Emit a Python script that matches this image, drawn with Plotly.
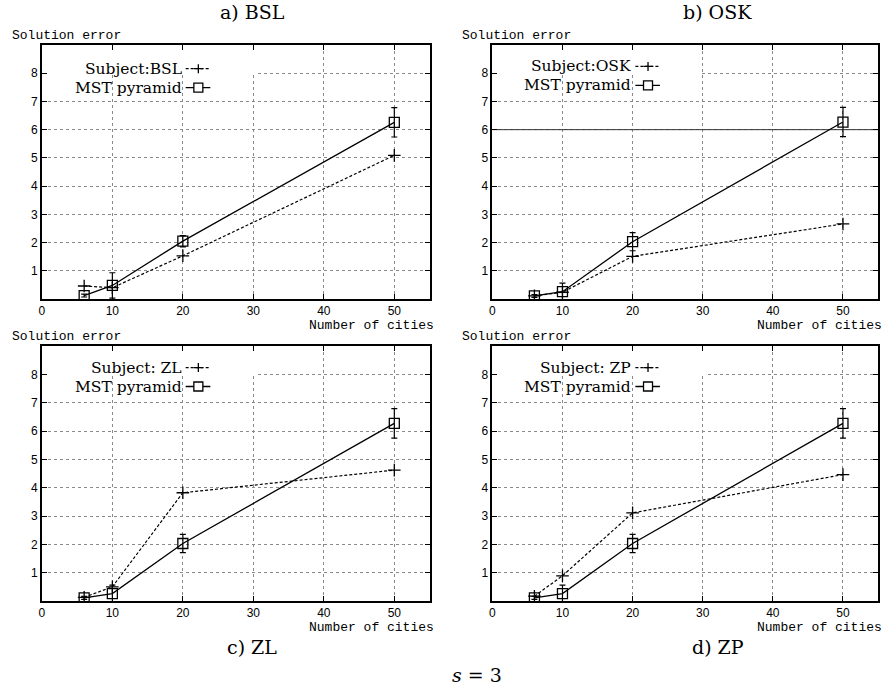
import plotly.graph_objects as go

W, H = 887, 689

# ---- data ----
cities = [6, 10, 20, 50]
mst_bsl = [0.12, 0.48, 2.05, 6.26]
mst_bsl_err = [0.05, 0.45, 0.20, 0.52]
mst_vals = [0.11, 0.26, 2.03, 6.27]
mst_err = [0.05, 0.30, 0.32, 0.52]
subj_bsl = [0.46, 0.40, 1.53, 5.09]
subj_osk = [0.11, 0.24, 1.51, 2.66]
subj_zl = [0.13, 0.50, 3.82, 4.62]
subj_zp = [0.17, 0.89, 3.11, 4.46]

subject_labels = ["Subject:BSL", "Subject:OSK", "Subject: ZL", "Subject: ZP"]
panel_titles = ["a) BSL", "b) OSK", "c) ZL", "d) ZP"]
x_ticks = [0, 10, 20, 30, 40, 50]
y_ticks = [1, 2, 3, 4, 5, 6, 7, 8]

panels = [
    (subj_bsl, mst_bsl, mst_bsl_err),
    (subj_osk, mst_vals, mst_err),
    (subj_zl, mst_vals, mst_err),
    (subj_zp, mst_vals, mst_err),
]

# plot-area pixel boxes (left, right, top, bottom)
boxes = [
    (39, 428, 45, 299),
    (491, 878, 45, 299),
    (39, 428, 346, 601),
    (491, 878, 346, 601),
]

def px(x):
    return x / W

def py(y):
    return 1 - y / H

SERIF = "DejaVu Serif"
MONO = "Liberation Mono"
fig = go.Figure()
layout = {}
shapes = []
annotations = []

for i, (subj, mst, err) in enumerate(panels):
    n = "" if i == 0 else str(i + 1)
    xa, ya = "x" + n, "y" + n
    l, r, t, b = boxes[i]
    common = dict(
        ticks="inside", ticklen=5, mirror="ticks",
        showline=True, linecolor="black", linewidth=1.5, tickcolor="black",
        showgrid=True, gridcolor="#8a8a8a", griddash="dot", gridwidth=1,
        zeroline=False, tickfont=dict(family="Liberation Sans", size=12, color="black"),
    )
    layout["xaxis" + n] = dict(domain=[px(l), px(r)], range=[0, 55], anchor=ya,
                               tickvals=x_ticks, **common)
    layout["yaxis" + n] = dict(domain=[py(b), py(t)], range=[0, 9], anchor=xa,
                               tickvals=y_ticks, **common)

    fig.add_trace(go.Scatter(
        x=cities, y=subj, mode="lines+markers", xaxis=xa, yaxis=ya,
        line=dict(color="black", width=1.2, dash="3px,2px"),
        marker=dict(symbol="cross-thin", size=9, line=dict(color="black", width=1.3)),
        showlegend=False,
    ))
    fig.add_trace(go.Scatter(
        x=cities, y=mst, mode="lines+markers", xaxis=xa, yaxis=ya,
        line=dict(color="black", width=1.3),
        marker=dict(symbol="square-open", size=10, color="black", line=dict(width=1.3)),
        error_y=dict(type="data", array=err, visible=True, color="black", thickness=1.2, width=3),
        showlegend=False,
    ))

    # blank area behind the key (grid hidden there)
    x1 = 29.7 if i == 1 else 30.5
    shapes.append(dict(type="rect", xref=xa, yref=ya, x0=0, x1=x1, y0=7.97, y1=9,
                       fillcolor="white", line=dict(width=0), layer="between"))
    if i == 1:
        shapes.append(dict(type="line", xref=xa, yref=ya, x0=0, x1=55, y0=6, y1=6,
                           line=dict(color="#333333", width=1), layer="between"))

    # key
    ky1, ky2 = (8.16, 7.49) if i == 0 else (8.24, 7.57)
    for txt, ky in ((subject_labels[i], ky1), ("MST pyramid", ky2)):
        annotations.append(dict(xref=xa, yref=ya, x=20.1, y=ky, text=txt,
                                showarrow=False, xanchor="right", yanchor="middle",
                                font=dict(family=SERIF, size=15.5, color="black")))
    shapes.append(dict(type="line", xref=xa, yref=ya, x0=20.4, x1=23.8, y0=ky1, y1=ky1,
                       line=dict(color="black", width=1.2, dash="3px,2px")))
    shapes.append(dict(type="line", xref=xa, yref=ya, x0=20.4, x1=23.9, y0=ky2, y1=ky2,
                       line=dict(color="black", width=1.3)))
    # plus marker
    shapes.append(dict(type="line", xref=xa, yref=ya, xsizemode="pixel", xanchor=22.2,
                       x0=-4.5, x1=4.5, y0=ky1, y1=ky1, line=dict(color="black", width=1.3)))
    shapes.append(dict(type="line", xref=xa, yref=ya, ysizemode="pixel", yanchor=ky1,
                       x0=22.2, x1=22.2, y0=-4.5, y1=4.5, line=dict(color="black", width=1.3)))
    # square marker
    shapes.append(dict(type="rect", xref=xa, yref=ya, xsizemode="pixel", ysizemode="pixel",
                       xanchor=22.2, yanchor=ky2, x0=-4.5, x1=4.5, y0=-4.5, y1=4.5,
                       fillcolor="white", line=dict(color="black", width=1.3)))

    # axis labels
    annotations.append(dict(xref="paper", yref="paper", x=px(l - 32), y=py(t - 10),
                            text="Solution error", showarrow=False, xanchor="left",
                            yanchor="middle", font=dict(family=MONO, size=13, color="black")))
    annotations.append(dict(xref="paper", yref="paper", x=px(r + 6), y=py(b + 26),
                            text="Number of cities", showarrow=False, xanchor="right",
                            yanchor="middle", font=dict(family=MONO, size=13, color="black")))

# panel titles
title_pos = [(250, 12), (717, 12), (250, 647), (717, 647)]
for txt, (tx, ty) in zip(panel_titles, title_pos):
    annotations.append(dict(xref="paper", yref="paper", x=px(tx), y=py(ty), text=txt,
                            showarrow=False, xanchor="center", yanchor="middle",
                            font=dict(family=SERIF, size=19, color="black")))
annotations.append(dict(xref="paper", yref="paper", x=px(476), y=py(675), text="<i>s</i> = 3",
                        showarrow=False, xanchor="center", yanchor="middle",
                        font=dict(family=SERIF, size=19, color="black")))

fig.update_layout(
    width=W, height=H, margin=dict(l=0, r=0, t=0, b=0),
    paper_bgcolor="white", plot_bgcolor="white",
    shapes=shapes, annotations=annotations, **layout,
)

fig.write_html("out.html", config={"displayModeBar": False},
               post_script="document.body.style.margin='0';document.body.style.overflow='hidden';")
